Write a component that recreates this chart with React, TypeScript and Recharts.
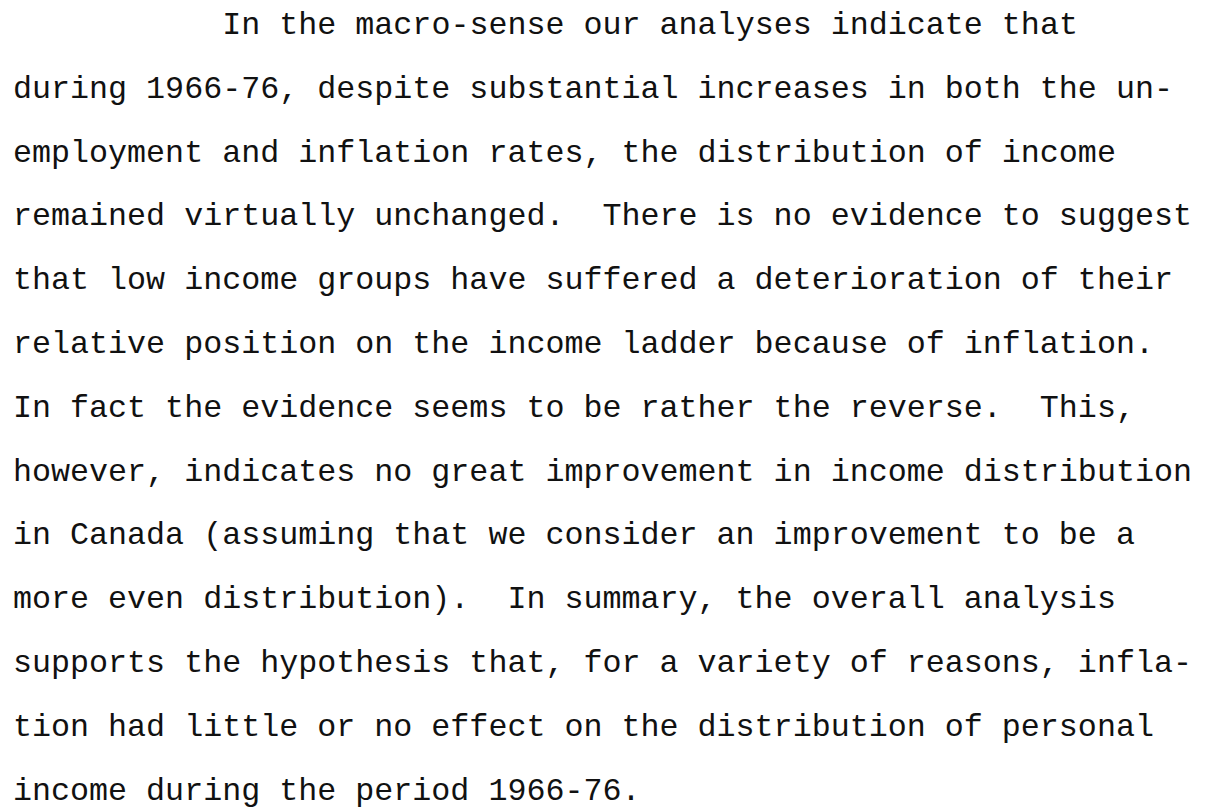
import { ScatterChart, Scatter, XAxis, YAxis } from "recharts";

// typed page, one entry per line of the original scan
const lines: string[] = [
    "In the macro-sense our analyses indicate that",
    "during 1966-76, despite substantial increases in both the un-",
    "employment and inflation rates, the distribution of income",
    "remained virtually unchanged.  There is no evidence to suggest",
    "that low income groups have suffered a deterioration of their",
    "relative position on the income ladder because of inflation.",
    "In fact the evidence seems to be rather the reverse.  This,",
    "however, indicates no great improvement in income distribution",
    "in Canada (assuming that we consider an improvement to be a",
    "more even distribution).  In summary, the overall analysis",
    "supports the hypothesis that, for a variety of reasons, infla-",
    "tion had little or no effect on the distribution of personal",
    "income during the period 1966-76.",
];

// paragraph indent, in typewriter columns
const indents: number[] = [11, 0, 0, 0, 0, 0, 0, 0, 0, 0, 0, 0, 0];

const W = 1209;
const H = 809;
const FONT_SIZE = 31.7;
const CHAR_W = FONT_SIZE * 0.6;
const LEFT = 13;
const FIRST_BASELINE = 34;
const LINE_GAP = 63.8;

const rows = lines.map((text, i) => ({ col: indents[i], row: i, text }));

function TypedLine(props: any) {
    const { cx, cy, payload } = props;
    return (
        <text
            x={cx}
            y={cy}
            fontFamily="'Liberation Mono', 'Courier New', monospace"
            fontSize={FONT_SIZE}
            fill="#111111"
            style={{ whiteSpace: "pre" }}
            xmlSpace="preserve"
        >
            {payload.text}
        </text>
    );
}

export default function App() {
    return (
        <div style={{ position: "absolute", left: 0, top: 0, width: W, height: H, background: "#ffffff" }}>
            <ScatterChart width={W} height={H} margin={{ top: 0, right: 0, bottom: 0, left: 0 }}>
                <XAxis
                    type="number"
                    dataKey="col"
                    hide
                    domain={[-LEFT / CHAR_W, (W - LEFT) / CHAR_W]}
                    allowDataOverflow
                />
                <YAxis
                    type="number"
                    dataKey="row"
                    hide
                    reversed
                    domain={[-FIRST_BASELINE / LINE_GAP, (H - FIRST_BASELINE) / LINE_GAP]}
                    allowDataOverflow
                />
                <Scatter data={rows} isAnimationActive={false} shape={<TypedLine />} />
            </ScatterChart>
        </div>
    );
}
